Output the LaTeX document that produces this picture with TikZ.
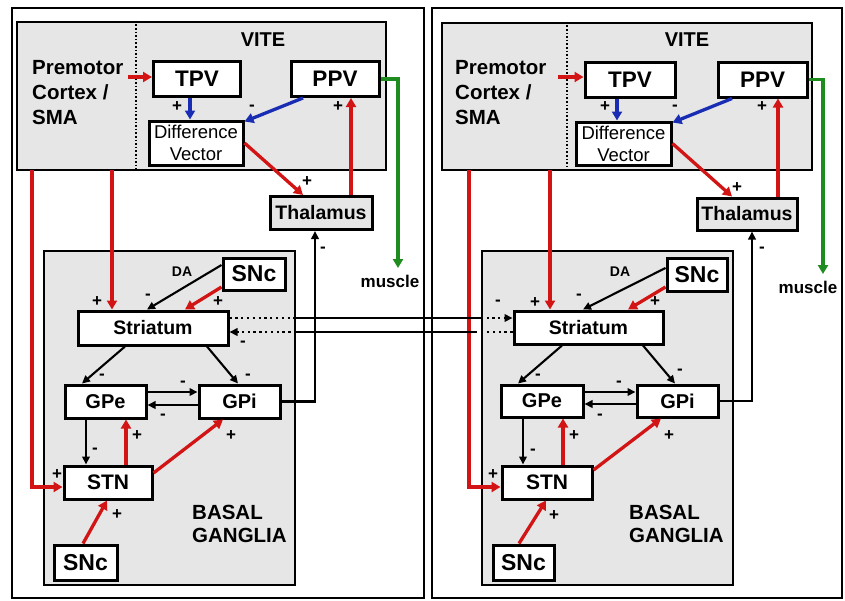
\documentclass[tikz,border=0pt]{standalone}
\usepackage{fontspec}
\setmainfont{Liberation Sans}
\usetikzlibrary{arrows.meta}
\definecolor{cred}{RGB}{210,20,20}
\definecolor{cblue}{RGB}{25,45,180}
\definecolor{cgreen}{RGB}{30,140,30}
\definecolor{cgray}{RGB}{230,230,230}
\newcommand\fsz[2]{\fontsize{#1}{#2}\selectfont}
\begin{document}
\begin{tikzpicture}[x=1pt,y=-1pt,
  frame/.style={draw, line width=2pt, inner sep=0},
  graybox/.style={draw, line width=2.6pt, fill=cgray, inner sep=0},
  box/.style={draw, line width=3pt, fill=white, inner sep=0, font=\bfseries\fsz{20}{24}},
  sign/.style={inner sep=0, font=\bfseries\fsz{17}{17}},
  lbl/.style={inner sep=0, font=\bfseries\fsz{20}{24}},
  divider/.style={line width=1.6pt, dash pattern=on 1.6pt off 2pt},
  blk/.style={draw=black, line width=2.1pt, -{Triangle[length=8pt,width=7.5pt]}},
  blkline/.style={draw=black, line width=2.1pt},
  dots/.style={draw=black, line width=2.3pt, dash pattern=on 2.3pt off 3.5pt},
  redl/.style={draw=cred, color=cred, line width=3.3pt, -{Triangle[length=9pt,width=10pt]}},
  bluel/.style={draw=cblue, color=cblue, line width=3.3pt, -{Triangle[length=9pt,width=10pt]}},
  greenl/.style={draw=cgreen, color=cgreen, line width=3.3pt, -{Triangle[length=9pt,width=10pt]}}
]
\useasboundingbox (0,0) rectangle (845,600);
\fill[white] (0,0) rectangle (845,600);

% ================= LEFT PANEL =================
\node[frame, minimum width=412, minimum height=590] (lFrame) at (218,303) {};
\node[graybox, minimum width=369, minimum height=148] (lVITE) at (201.5,96) {};
\coordinate (ldiv) at (136,0);
\draw[divider] (ldiv |- lVITE.north) -- (ldiv |- lVITE.south);
\node[lbl] (lVT) at (263,40) {VITE};
\node[lbl, align=left, anchor=west, font=\bfseries\fsz{20.5}{25}] (lPM) at (32,93) {Premotor\\Cortex /\\SMA};
\node[box, minimum width=87, minimum height=35, font=\bfseries\fsz{22.5}{24}] (lTPV) at (197,79) {TPV};
\node[box, minimum width=88, minimum height=35, font=\bfseries\fsz{22.5}{24}] (lPPV) at (335,79) {PPV};
\node[box, minimum width=94, minimum height=44, align=center, font=\fsz{18.5}{22}] (lDV) at (196,143) {Difference\\Vector};
\node[box, fill=cgray, minimum width=102, minimum height=33, font=\bfseries\fsz{19.5}{24}] (lTHAL) at (321,213) {Thalamus};
\node[graybox, minimum width=251, minimum height=334] (lBG) at (169.5,418) {};
\node[box, minimum width=62, minimum height=32, font=\bfseries\fsz{23}{24}] (lSNc) at (254,274) {SNc};
\node[box, minimum width=150, minimum height=34, font=\bfseries\fsz{19.5}{24}] (lSTR) at (153,328) {Striatum};
\node[box, minimum width=81, minimum height=33] (lGPe) at (105.5,401.5) {GPe};
\node[box, minimum width=81, minimum height=33] (lGPi) at (239.5,401.5) {GPi};
\node[box, minimum width=88, minimum height=33, font=\bfseries\fsz{21}{24}] (lSTN) at (108,482.5) {STN};
\node[box, minimum width=63, minimum height=35, font=\bfseries\fsz{23}{24}] (lSNcB) at (85.5,562.5) {SNc};
\node[lbl, align=left, anchor=west, font=\bfseries\fsz{20.5}{23}] (lBGt) at (192,523.5) {BASAL\\GANGLIA};
\node[lbl, font=\bfseries\fsz{14}{14}] (lDA) at (182,272) {DA};
\node[lbl, font=\bfseries\fsz{17}{17}] (lMus) at (390,281) {muscle};

\coordinate (lpm) at (128,77);
\coordinate (lc1) at (32,170);
\coordinate (lc2) at (112,170);
\coordinate (lgr) at (398,268);
\draw[redl] (lpm) -- (lpm -| lTPV.west);
\draw[bluel] ([xshift=-7pt]lTPV.south) -- ([xshift=-7pt]lTPV.south |- lDV.north);
\draw[bluel] ([xshift=-32pt]lPPV.south) -- ([yshift=-2pt]lDV.north east);
\draw[redl] (lDV.east) -- ([xshift=-18pt]lTHAL.north);
\draw[redl] ([xshift=30pt]lTHAL.north) -- ([xshift=30pt]lTHAL.north |- lPPV.south);
\draw[greenl] (lPPV.east) -| (lgr);
\draw[redl] (lc2) -- (lc2 |- lSTR.north);
\draw[redl] (lc1) |- ([yshift=-4.5pt]lSTN.west);
\draw[blk] ([yshift=9pt]lSNc.west) -- ([xshift=-6pt]lSTR.north);
\draw[redl] ([yshift=-13pt]lSNc.west) -- ([xshift=32pt]lSTR.north);
\draw[blk] ([xshift=-28pt]lSTR.south) -- ([xshift=-23.5pt]lGPe.north);
\draw[blk] ([xshift=54pt]lSTR.south) -- ([xshift=-1.5pt]lGPi.north);
\draw[blk] ([yshift=9.5pt]lGPe.east) -- ([yshift=9.5pt]lGPi.west);
\draw[blk] ([yshift=-3.5pt]lGPi.west) -- ([yshift=-3.5pt]lGPe.east);
\draw[blk] ([xshift=-19.5pt]lGPe.south) -- ([xshift=-19.5pt]lGPe.south |- lSTN.north);
\draw[redl] ([xshift=18pt]lSTN.north) -- ([xshift=18pt]lSTN.north |- lGPe.south);
\draw[redl] ([yshift=9.5pt]lSTN.east) -- ([xshift=-16.5pt]lGPi.south);
\draw[redl] ([xshift=-2.5pt]lSNcB.north) -- ([xshift=-1pt]lSTN.south);
\draw[blk] (lGPi.east) -| ([xshift=-6pt]lTHAL.south);

% ================= RIGHT PANEL =================
\node[frame, minimum width=410, minimum height=590] (rFrame) at (637,303) {};
\node[graybox, minimum width=370, minimum height=147] (rVITE) at (627,96.5) {};
\coordinate (rdiv) at (567,0);
\draw[divider] (rdiv |- rVITE.north) -- (rdiv |- rVITE.south);
\node[lbl] (rVT) at (687,40) {VITE};
\node[lbl, align=left, anchor=west, font=\bfseries\fsz{20.5}{25}] (rPM) at (455,93) {Premotor\\Cortex /\\SMA};
\node[box, minimum width=90, minimum height=35, font=\bfseries\fsz{22.5}{24}] (rTPV) at (630,79.5) {TPV};
\node[box, minimum width=89, minimum height=35, font=\bfseries\fsz{22.5}{24}] (rPPV) at (762.5,79.5) {PPV};
\node[box, minimum width=95, minimum height=43, align=center, font=\fsz{18.5}{22}] (rDV) at (623.5,143.5) {Difference\\Vector};
\node[box, fill=cgray, minimum width=100, minimum height=32, font=\bfseries\fsz{19.5}{24}] (rTHAL) at (747,214) {Thalamus};
\node[graybox, minimum width=251, minimum height=334] (rBG) at (607.5,418) {};
\node[box, minimum width=60, minimum height=33, font=\bfseries\fsz{23}{24}] (rSNc) at (697,274.5) {SNc};
\node[box, minimum width=149, minimum height=33, font=\bfseries\fsz{19.5}{24}] (rSTR) at (588.5,327.5) {Striatum};
\node[box, minimum width=82, minimum height=32] (rGPe) at (542,401) {GPe};
\node[box, minimum width=81, minimum height=32] (rGPi) at (677.5,401) {GPi};
\node[box, minimum width=90, minimum height=33, font=\bfseries\fsz{21}{24}] (rSTN) at (547,482.5) {STN};
\node[box, minimum width=61, minimum height=35, font=\bfseries\fsz{23}{24}] (rSNcB) at (523.5,562.5) {SNc};
\node[lbl, align=left, anchor=west, font=\bfseries\fsz{20.5}{23}] (rBGt) at (629,523.5) {BASAL\\GANGLIA};
\node[lbl, font=\bfseries\fsz{14}{14}] (rDA) at (620,272) {DA};
\node[lbl, font=\bfseries\fsz{17}{17}] (rMus) at (808,287) {muscle};

\coordinate (rpm) at (558,77);
\coordinate (rc1) at (469,170);
\coordinate (rc2) at (550,170);
\coordinate (rgr) at (823,274);
\draw[redl] (rpm) -- (rpm -| rTPV.west);
\draw[bluel] ([xshift=-13pt]rTPV.south) -- ([xshift=-13pt]rTPV.south |- rDV.north);
\draw[bluel] ([xshift=-30.5pt]rPPV.south) -- ([yshift=-2pt]rDV.north east);
\draw[redl] (rDV.east) -- ([xshift=-15pt]rTHAL.north);
\draw[redl] ([xshift=31pt]rTHAL.north) -- ([xshift=31pt]rTHAL.north |- rPPV.south);
\draw[greenl] (rPPV.east) -| (rgr);
\draw[redl] (rc2) -- (rc2 |- rSTR.north);
\draw[redl] (rc1) |- ([yshift=-4.5pt]rSTN.west);
\draw[blk] ([yshift=6.5pt]rSNc.west) -- ([xshift=-5.5pt]rSTR.north);
\draw[redl] ([yshift=-12.5pt]rSNc.west) -- ([xshift=39.5pt]rSTR.north);
\draw[blk] ([xshift=-26.5pt]rSTR.south) -- ([xshift=-24pt]rGPe.north);
\draw[blk] ([xshift=54.5pt]rSTR.south) -- ([xshift=-2.5pt]rGPi.north);
\draw[blk] ([yshift=9pt]rGPe.east) -- ([yshift=9pt]rGPi.west);
\draw[blk] ([yshift=-3pt]rGPi.west) -- ([yshift=-3pt]rGPe.east);
\draw[blk] ([xshift=-19pt]rGPe.south) -- ([xshift=-19pt]rGPe.south |- rSTN.north);
\draw[redl] ([xshift=16pt]rSTN.north) -- ([xshift=16pt]rSTN.north |- rGPe.south);
\draw[redl] ([yshift=12.5pt]rSTN.east) -- ([xshift=-16.5pt]rGPi.south);
\draw[redl] ([xshift=-4.5pt]rSNcB.north) -- ([xshift=-1pt]rSTN.south);
\draw[blk] (rGPi.east) -| ([xshift=5pt]rTHAL.south);

% ================= CROSS CONNECTIONS =================
\coordinate (up) at ([yshift=10pt]lSTR.east);
\coordinate (lo) at ([yshift=-4pt]lSTR.east);
\draw[dots] (up) -- (up -| lBG.east);
\draw[blkline] (up -| lBG.east) -- (up -| rBG.west);
\draw[dots] (up -| rBG.west) -- ([xshift=-8pt]up -| rSTR.west);
\draw[blk] ([xshift=-9pt]up -| rSTR.west) -- (up -| rSTR.west);
\draw[dots] (lo -| rSTR.west) -- ([xshift=3pt]lo -| rBG.west);
\draw[blkline] ([xshift=-4pt]lo -| rBG.west) -- (lo -| lBG.east);
\draw[dots] (lo -| lBG.east) -- ([xshift=8pt]lo);
\draw[blk] ([xshift=9pt]lo) -- (lo);

% ================= SIGNS =================
\foreach \x/\y/\t [count=\i] in {
  177/107/+, 252/108/-, 307/182/+, 338/107/+, 323/250/-,
  97/302/+, 148/297/-, 218/302/+, 243/344/-, 102/377/-,
  248/377/-, 183/384/-, 163/417/-, 95/451/-, 137/436/+,
  231/436/+, 117/515/+, 57/475/+,
  605/107/+, 675/108/-, 737/188/+, 762/107/+, 762/250/-,
  498/303/-, 535/303/+, 579/297/-, 655/302/+, 538/377/-,
  680/372/-, 619/384/-, 600/417/-, 533/452/-, 574/436/+,
  669/436/+, 554/516/+, 493/475/+}
  \node[sign] (sg\i) at (\x,\y) {\t};
\end{tikzpicture}
\end{document}
